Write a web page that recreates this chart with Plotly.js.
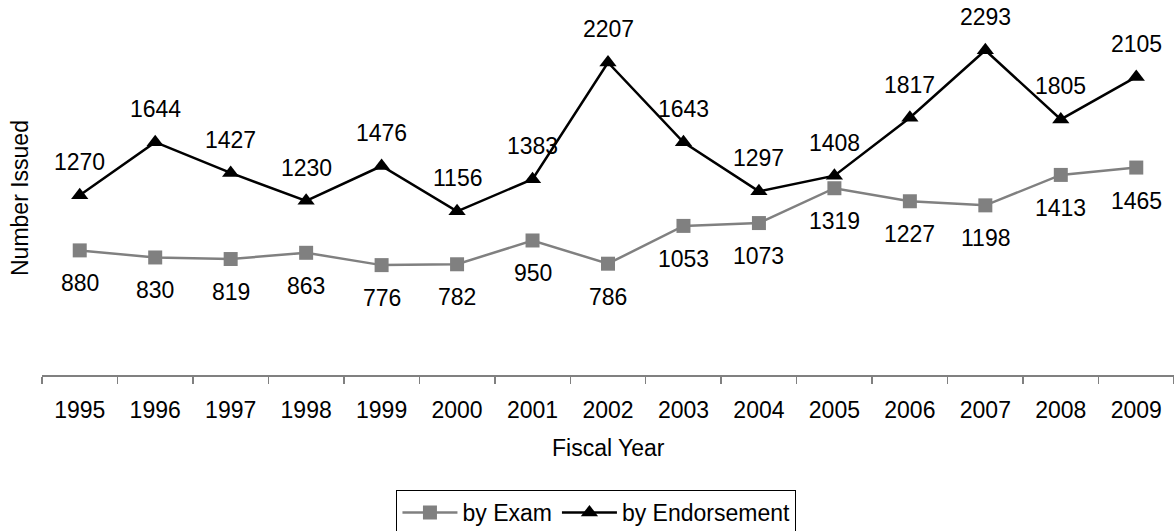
<!DOCTYPE html>
<html>
<head>
<meta charset="utf-8">
<script src="https://cdn.plot.ly/plotly-3.0.1.min.js"></script>
<style>html,body{margin:0;padding:0;background:#fff;}#chart{width:1174px;height:531px;}</style>
</head>
<body>
<div id="chart"></div>
<script>
var years = ["1995","1996","1997","1998","1999","2000","2001","2002","2003","2004","2005","2006","2007","2008","2009"];
var byExam = [880,830,819,863,776,782,950,786,1053,1073,1319,1227,1198,1413,1465];
var byEndorsement = [1270,1644,1427,1230,1476,1156,1383,2207,1643,1297,1408,1817,2293,1805,2105];

var FONT = "Liberation Sans, Arial, sans-serif";
var FS = 23;

var traces = [
  {
    x: years, y: byExam, name: "by Exam", type: "scatter", mode: "lines+markers",
    line: {color: "#808080", width: 2.5},
    marker: {symbol: "square", size: 14, color: "#808080"},
    hoverinfo: "x+y"
  },
  {
    x: years, y: byEndorsement, name: "by Endorsement", type: "scatter", mode: "lines+markers",
    line: {color: "#000000", width: 2.5},
    marker: {symbol: "triangle-up", size: 15, color: "#000000"},
    hoverinfo: "x+y"
  }
];

var annotations = [];
years.forEach(function (yr, i) {
  annotations.push({x: i, y: byEndorsement[i], xref: "x", yref: "y", text: String(byEndorsement[i]),
    showarrow: false, yshift: 33, font: {family: FONT, size: FS, color: "#000"}});
  annotations.push({x: i, y: byExam[i], xref: "x", yref: "y", text: String(byExam[i]),
    showarrow: false, yshift: -33, font: {family: FONT, size: FS, color: "#000"}});
});
annotations.push({text: "Number Issued", xref: "paper", yref: "paper", x: 0, y: 0.5, xshift: -22,
  xanchor: "center", yanchor: "middle",
  textangle: -90, showarrow: false, font: {family: FONT, size: FS, color: "#000"}});
annotations.push({text: "Fiscal Year", xref: "paper", yref: "paper", x: 0.5, y: 0, yshift: -73,
  xanchor: "center", yanchor: "middle",
  showarrow: false, font: {family: FONT, size: FS, color: "#000"}});

var layout = {
  width: 1174, height: 531,
  margin: {l: 42, r: 0, t: 21, b: 156, autoexpand: false},
  paper_bgcolor: "#fff", plot_bgcolor: "#fff",
  font: {family: FONT, size: FS, color: "#000"},
  showlegend: true,
  legend: {orientation: "h", x: 0.4898, xanchor: "center", y: -0.325, yanchor: "top",
    bordercolor: "#000", borderwidth: 1, bgcolor: "#fff",
    font: {family: FONT, size: FS, color: "#000"}, itemwidth: 55, tracegroupgap: 0},
  xaxis: {type: "category", showline: true, linecolor: "#808080", linewidth: 1.5,
    ticks: "outside", tickson: "boundaries", ticklen: 7, tickcolor: "#808080", tickwidth: 1.5,
    ticklabelstandoff: 14,
    showgrid: false, zeroline: false, tickfont: {family: FONT, size: FS, color: "#000"},
    range: [-0.5, 14.5], fixedrange: true},
  yaxis: {range: [0, 2500], showgrid: false, zeroline: false, showline: false,
    showticklabels: false, ticks: "", fixedrange: true},
  annotations: annotations
};

Plotly.newPlot("chart", traces, layout, {displayModeBar: false, staticPlot: true});
</script>
</body>
</html>
